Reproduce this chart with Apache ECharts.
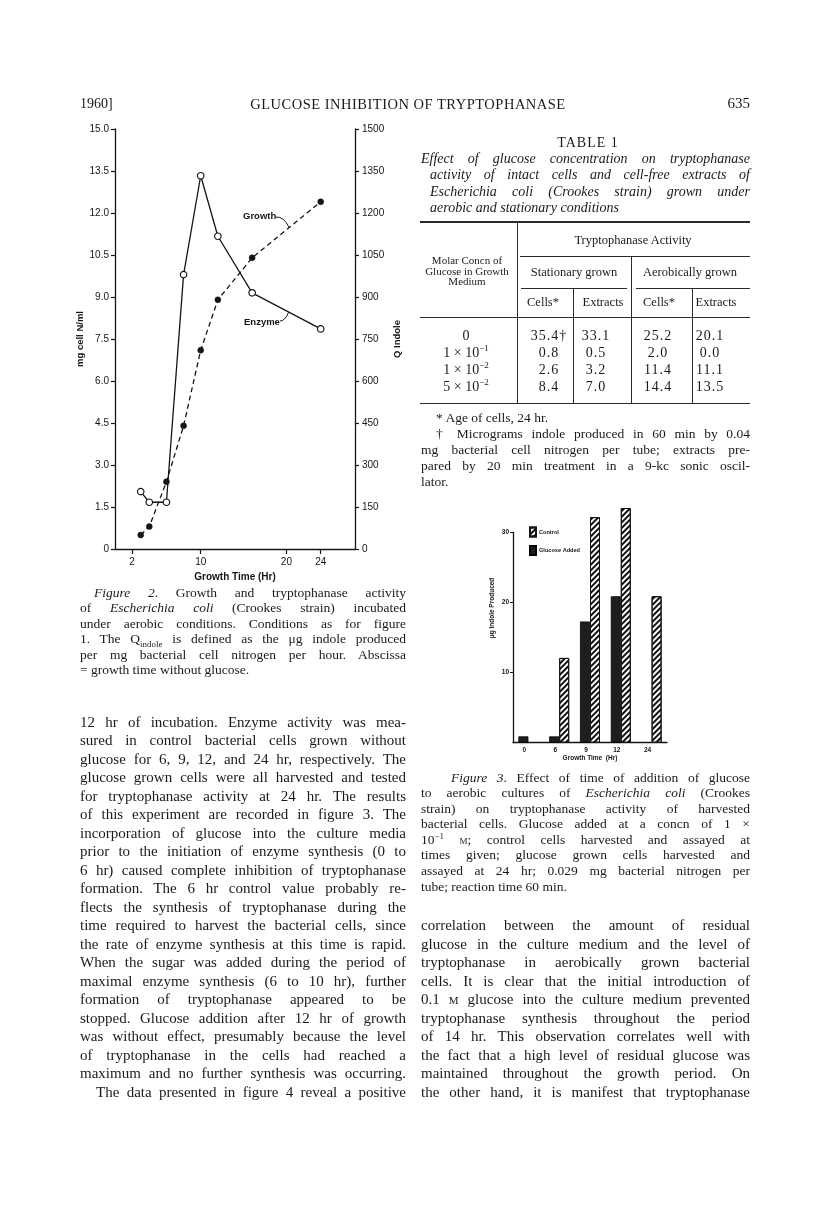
<!DOCTYPE html>
<html><head><meta charset="utf-8">
<script src="https://cdn.jsdelivr.net/npm/echarts@6/dist/echarts.min.js"></script>
<style>
html,body{margin:0;padding:0;background:#fff;}
#page{position:relative;width:816px;height:1219px;overflow:hidden;background:#fff;}
#chart{position:absolute;left:0;top:0;width:816px;height:1219px;}
.t{position:absolute;font-family:"Liberation Serif","Times New Roman",serif;color:#1a1a1a;white-space:nowrap;line-height:1.15;}
.blk{position:absolute;font-family:"Liberation Serif","Times New Roman",serif;color:#1a1a1a;}
.blk div{white-space:nowrap;text-align:justify;text-align-last:justify;}
.blk div.l{text-align:left;text-align-last:left;}
.rule{position:absolute;background:#2a2a2a;}
i{font-style:italic;}
sub,sup{line-height:0;}
.sc{font-variant:small-caps;}
</style></head>
<body><div id="page">
<div id="chart"></div>

<!-- running head -->
<div class="t" style="left:80px;top:104px;transform:translateY(-50%);font-size:14px;">1960]</div>
<div class="t" style="left:408px;top:104px;transform:translate(-50%,-50%);font-size:14.5px;letter-spacing:0.5px;">GLUCOSE INHIBITION OF TRYPTOPHANASE</div>
<div class="t" style="left:750px;top:104px;transform:translate(-100%,-50%);font-size:15px;">635</div>

<!-- table title -->
<div class="t" style="left:588px;top:143px;transform:translate(-50%,-50%);font-size:14px;letter-spacing:1px;">TABLE 1</div>
<div class="blk" style="left:421px;top:150.75px;width:329px;font-size:14px;line-height:16.5px;font-style:italic;">
<div>Effect of glucose concentration on tryptophanase</div>
<div style="padding-left:9px">activity of intact cells and cell-free extracts of</div>
<div style="padding-left:9px">Escherichia coli (Crookes strain) grown under</div>
<div class="l" style="padding-left:9px">aerobic and stationary conditions</div>
</div>
<div id="table"></div>

<!-- footnotes -->
<div class="blk" style="left:421px;top:410px;width:329px;font-size:13.5px;line-height:16px;">
<div class="l" style="padding-left:15px">* Age of cells, 24 hr.</div>
<div style="padding-left:15px">† Micrograms indole produced in 60 min by 0.04</div>
<div>mg bacterial cell nitrogen per tube; extracts pre-</div>
<div>pared by 20 min treatment in a 9-kc sonic oscil-</div>
<div class="l">lator.</div>
</div>

<!-- figure 2 caption -->
<div class="blk" style="left:80px;top:584.5px;width:326px;font-size:13.5px;line-height:15.6px;">
<div style="padding-left:14px"><i>Figure 2</i>. Growth and tryptophanase activity</div>
<div>of <i>Escherichia coli</i> (Crookes strain) incubated</div>
<div>under aerobic conditions. Conditions as for figure</div>
<div>1. The Q<sub style="font-size:9px">indole</sub> is defined as the μg indole produced</div>
<div>per mg bacterial cell nitrogen per hour. Abscissa</div>
<div class="l">= growth time without glucose.</div>
</div>

<!-- figure 3 caption -->
<div class="blk" style="left:421px;top:769.5px;width:329px;font-size:13.5px;line-height:15.6px;">
<div style="padding-left:30px"><i>Figure 3</i>. Effect of time of addition of glucose</div>
<div>to aerobic cultures of <i>Escherichia coli</i> (Crookes</div>
<div>strain) on tryptophanase activity of harvested</div>
<div>bacterial cells. Glucose added at a concn of 1 ×</div>
<div>10<sup style="font-size:9px">−1</sup> <span class="sc">m</span>; control cells harvested and assayed at</div>
<div>times given; glucose grown cells harvested and</div>
<div>assayed at 24 hr; 0.029 mg bacterial nitrogen per</div>
<div class="l">tube; reaction time 60 min.</div>
</div>

<!-- body left -->
<div class="blk" style="left:80px;top:712.75px;width:326px;font-size:15px;line-height:18.5px;">
<div>12 hr of incubation. Enzyme activity was mea-</div>
<div>sured in control bacterial cells grown without</div>
<div>glucose for 6, 9, 12, and 24 hr, respectively. The</div>
<div>glucose grown cells were all harvested and tested</div>
<div>for tryptophanase activity at 24 hr. The results</div>
<div>of this experiment are recorded in figure 3. The</div>
<div>incorporation of glucose into the culture media</div>
<div>prior to the initiation of enzyme synthesis (0 to</div>
<div>6 hr) caused complete inhibition of tryptophanase</div>
<div>formation. The 6 hr control value probably re-</div>
<div>flects the synthesis of tryptophanase during the</div>
<div>time required to harvest the bacterial cells, since</div>
<div>the rate of enzyme synthesis at this time is rapid.</div>
<div>When the sugar was added during the period of</div>
<div>maximal enzyme synthesis (6 to 10 hr), further</div>
<div>formation of tryptophanase appeared to be</div>
<div>stopped. Glucose addition after 12 hr of growth</div>
<div>was without effect, presumably because the level</div>
<div>of tryptophanase in the cells had reached a</div>
<div>maximum and no further synthesis was occurring.</div>
<div style="padding-left:16px">The data presented in figure 4 reveal a positive</div>
</div>

<!-- body right -->
<div class="blk" style="left:421px;top:916.25px;width:329px;font-size:15px;line-height:18.5px;">
<div>correlation between the amount of residual</div>
<div>glucose in the culture medium and the level of</div>
<div>tryptophanase in aerobically grown bacterial</div>
<div>cells. It is clear that the initial introduction of</div>
<div>0.1 <span class="sc">m</span> glucose into the culture medium prevented</div>
<div>tryptophanase synthesis throughout the period</div>
<div>of 14 hr. This observation correlates well with</div>
<div>the fact that a high level of residual glucose was</div>
<div>maintained throughout the growth period. On</div>
<div>the other hand, it is manifest that tryptophanase</div>
</div>
</div>

<script>
// ---------- Figure 2 data ----------
const fig2Hours = [3, 4, 6, 8, 10, 12, 16, 24];
const growthMgN = [0.5, 0.8, 2.4, 4.4, 7.1, 8.9, 10.4, 12.4];
const enzymeQindole = [205, 167, 167, 980, 1333, 1117, 915, 786];
const fig2XTickLabels = [2, 10, 20, 24];

// ---------- Figure 3 data ----------
const fig3Times = ['0', '6', '9', '12', '24'];
const fig3Glucose = [0.9, 0.9, 17.3, 20.9, null];
const fig3Control = [null, 12.1, 32.2, 33.5, 20.9];
const fig3YTickLabels = [10, 20, 30];

// ---------- Table 1 data ----------
const tblConc = ['0', '1 × 10<sup style="font-size:9px">−1</sup>', '1 × 10<sup style="font-size:9px">−2</sup>', '5 × 10<sup style="font-size:9px">−2</sup>'];
const tblStatCells = ['35.4†', '0.8', '2.6', '8.4'];
const tblStatExtracts = ['33.1', '0.5', '3.2', '7.0'];
const tblAeroCells = ['25.2', '2.0', '11.4', '14.4'];
const tblAeroExtracts = ['20.1', '0.0', '11.1', '13.5'];

// ---------- build table (HTML) ----------
(function(){
  const host = document.getElementById('page');
  function txt(html, x, y, size, extra){
    const d = document.createElement('div');
    d.className = 't';
    d.style.left = x + 'px'; d.style.top = y + 'px';
    d.style.fontSize = size + 'px';
    d.style.transform = 'translate(-50%,-50%)';
    if (extra) Object.assign(d.style, extra);
    d.innerHTML = html; host.appendChild(d);
  }
  function rule(x1, y1, x2, y2, w){
    const d = document.createElement('div');
    d.className = 'rule';
    if (y1 === y2){ d.style.left = x1+'px'; d.style.top = (y1 - w/2)+'px'; d.style.width = (x2-x1)+'px'; d.style.height = w+'px'; }
    else { d.style.left = (x1 - w/2)+'px'; d.style.top = y1+'px'; d.style.width = w+'px'; d.style.height = (y2-y1)+'px'; }
    host.appendChild(d);
  }
  rule(420, 222, 750, 222, 1.3);
  rule(520, 256.5, 750, 256.5, 1);
  rule(521, 288.5, 627, 288.5, 1);
  rule(636, 288.5, 750, 288.5, 1);
  rule(420, 317, 750, 317, 1);
  rule(420, 403.5, 750, 403.5, 1.3);
  rule(517, 222, 517, 403, 1);
  rule(631, 256.5, 631, 403, 1);
  rule(573, 289, 573, 403, 1);
  rule(692, 289, 692, 403, 1);

  txt('Tryptophanase Activity', 633, 240, 12.5);
  txt('Molar Concn of', 467, 260, 11, {lineHeight:'11px'});
  txt('Glucose in Growth', 467, 270.5, 11, {lineHeight:'11px'});
  txt('Medium', 467, 281, 11, {lineHeight:'11px'});
  txt('Stationary grown', 574, 271.5, 12.5);
  txt('Aerobically grown', 690, 271.5, 12.5);
  txt('Cells*', 543, 302, 12.5);
  txt('Extracts', 603, 302, 12.5);
  txt('Cells*', 659, 302, 12.5);
  txt('Extracts', 716, 302, 12.5);

  const rowsY = [336, 353, 370, 387];
  const cols = [[tblConc, 466], [tblStatCells, 549], [tblStatExtracts, 596], [tblAeroCells, 658], [tblAeroExtracts, 710]];
  cols.forEach(function(c, ci){
    c[0].forEach(function(v, ri){
      txt(v, c[1], rowsY[ri], 14, ci === 0 ? {} : {letterSpacing:'1px'});
    });
  });
})();

// ---------- charts ----------
const sans = 'Liberation Sans, DejaVu Sans, sans-serif';
const ink = '#151515';
const chart = echarts.init(document.getElementById('chart'), null, {renderer: 'canvas'});
const option = {
  animation: false,
  backgroundColor: 'transparent',
  grid: [
    {left: 115, top: 129, width: 240, height: 420},
    {left: 513, top: 532.5, width: 154, height: 210.2}
  ],
  xAxis: [
    {
      gridIndex: 0, type: 'value', min: 0, max: 28,
      axisLine: {show: true, lineStyle: {color: ink, width: 1.3}},
      axisTick: {show: true, customValues: fig2XTickLabels, length: 5, lineStyle: {color: ink, width: 1.2}},
      axisLabel: {customValues: fig2XTickLabels, fontFamily: sans, fontSize: 10, color: ink, margin: 8},
      splitLine: {show: false},
      name: 'Growth Time (Hr)', nameLocation: 'middle', nameGap: 23,
      nameTextStyle: {fontFamily: sans, fontSize: 10, fontWeight: 'bold', color: ink}
    },
    {
      gridIndex: 1, type: 'category', data: fig3Times,
      axisLine: {show: true, lineStyle: {color: ink, width: 1.3}},
      axisTick: {show: false},
      axisLabel: {fontFamily: sans, fontSize: 6.5, fontWeight: 'bold', color: ink, margin: 4, padding: [0, 8, 0, 0]},
      name: 'Growth Time  (Hr)', nameLocation: 'middle', nameGap: 11,
      nameTextStyle: {fontFamily: sans, fontSize: 6.5, fontWeight: 'bold', color: ink}
    }
  ],
  yAxis: [
    {
      gridIndex: 0, type: 'value', min: 0, max: 15, interval: 1.5, position: 'left',
      axisLine: {show: true, lineStyle: {color: ink, width: 1.3}},
      axisTick: {show: true, length: 4, lineStyle: {color: ink, width: 1.2}},
      axisLabel: {fontFamily: sans, fontSize: 10, color: ink, margin: 6,
        formatter: function(v){ return v === 0 ? '0' : v.toFixed(1); }},
      splitLine: {show: false},
      name: 'mg cell N/ml', nameLocation: 'middle', nameGap: 30, nameRotate: 90,
      nameTextStyle: {fontFamily: sans, fontSize: 9.5, fontWeight: 'bold', color: ink}
    },
    {
      gridIndex: 0, type: 'value', min: 0, max: 1500, interval: 150, position: 'right',
      axisLine: {show: true, lineStyle: {color: ink, width: 1.3}},
      axisTick: {show: true, length: 4, lineStyle: {color: ink, width: 1.2}},
      axisLabel: {fontFamily: sans, fontSize: 10, color: ink, margin: 7,
        formatter: function(v){ return String(v); }},
      splitLine: {show: false},
      name: 'Q Indole', nameLocation: 'middle', nameGap: 37, nameRotate: 90,
      nameTextStyle: {fontFamily: sans, fontSize: 9.5, fontWeight: 'bold', color: ink}
    },
    {
      gridIndex: 1, type: 'value', min: 0, max: 30, interval: 10,
      axisLine: {show: true, lineStyle: {color: ink, width: 1.3}},
      axisTick: {show: true, customValues: fig3YTickLabels, length: 3, lineStyle: {color: ink}},
      axisLabel: {customValues: fig3YTickLabels, fontFamily: sans, fontSize: 6.5, fontWeight: 'bold', color: ink, margin: 4},
      splitLine: {show: false}
    }
  ],
  legend: {
    data: ['Control', 'Glucose Added'], orient: 'vertical', left: 529, top: 526.5, padding: 0,
    icon: 'rect', itemWidth: 6, itemHeight: 9, itemGap: 7.5,
    textStyle: {fontFamily: sans, fontSize: 5.6, fontWeight: 'bold', color: ink, padding: [0, 0, 0, -2]}
  },
  series: [
    {
      name: 'Growth', type: 'line', xAxisIndex: 0, yAxisIndex: 0,
      data: fig2Hours.map(function(h, i){ return [h, growthMgN[i]]; }),
      symbol: 'circle', symbolSize: 6,
      lineStyle: {color: ink, width: 1.3, type: [5, 3.5]},
      itemStyle: {color: ink, borderColor: ink, borderWidth: 0.5},
      z: 3
    },
    {
      name: 'Enzyme', type: 'line', xAxisIndex: 0, yAxisIndex: 1,
      data: fig2Hours.map(function(h, i){ return [h, enzymeQindole[i]]; }),
      symbol: 'circle', symbolSize: 6.5,
      lineStyle: {color: ink, width: 1.3},
      itemStyle: {color: '#fff', borderColor: ink, borderWidth: 1.2},
      z: 4
    },
    {
      name: 'Glucose Added', type: 'bar', xAxisIndex: 1, yAxisIndex: 2,
      data: fig3Glucose, barWidth: 10, barGap: '0%', clip: false,
      itemStyle: {color: '#1e1e1e', borderColor: '#000', borderWidth: 0.8}
    },
    {
      name: 'Control', type: 'bar', xAxisIndex: 1, yAxisIndex: 2,
      data: fig3Control, barWidth: 10, barGap: '0%', clip: false,
      itemStyle: {color: '#fff', borderColor: ink, borderWidth: 1,
        decal: {symbol: 'rect', symbolSize: 1, dashArrayX: [1, 0], dashArrayY: [1.2, 1.8], rotation: -Math.PI / 4, color: '#111'}}
    }
  ],
  graphic: [
    {type: 'text', x: 243, y: 216, z: 10, style: {text: 'Growth', font: 'bold 9.5px Liberation Sans', fill: ink, verticalAlign: 'middle'}},
    {type: 'bezierCurve', z: 10, shape: {x1: 276, y1: 217, x2: 289, y2: 227.5, cpx1: 284, cpy1: 216.5}, style: {stroke: ink, lineWidth: 1, fill: null}},
    {type: 'text', x: 244, y: 322, z: 10, style: {text: 'Enzyme', font: 'bold 9.5px Liberation Sans', fill: ink, verticalAlign: 'middle'}},
    {type: 'bezierCurve', z: 10, shape: {x1: 280, y1: 321, x2: 288.5, y2: 312.5, cpx1: 285, cpy1: 321}, style: {stroke: ink, lineWidth: 1, fill: null}},
    {type: 'text', x: 492, y: 608, rotation: Math.PI / 2, z: 10, style: {text: 'μg Indole Produced', font: 'bold 6.5px Liberation Sans', fill: ink, align: 'center', verticalAlign: 'middle'}}
  ]
};
chart.setOption(option);
</script>
</body></html>
